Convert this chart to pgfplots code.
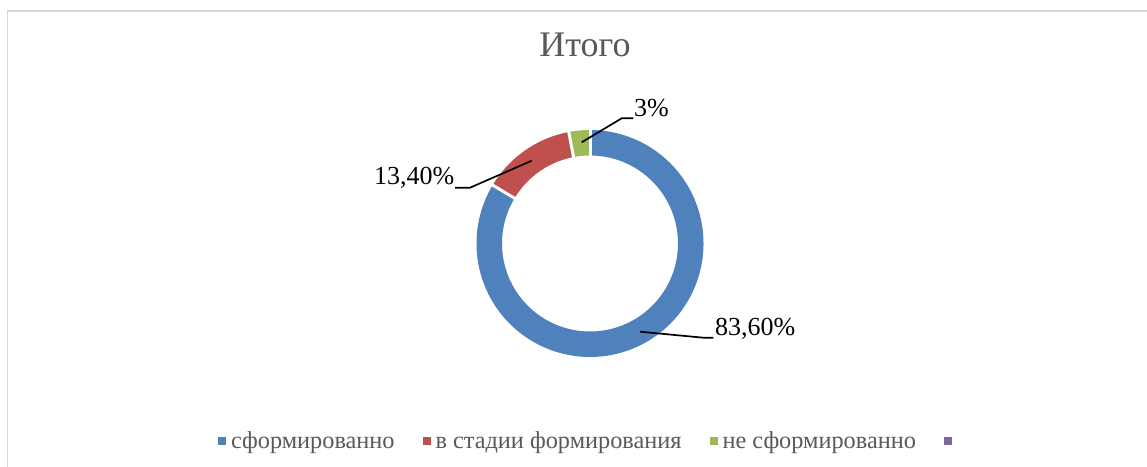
\documentclass[border=0pt]{standalone}
\usepackage{pgfplots}
\pgfplotsset{compat=1.18}
\usepackage{fontspec}
\setmainfont{Liberation Serif}
\definecolor{cblue}{HTML}{4F81BD}
\definecolor{cred}{HTML}{C0504D}
\definecolor{cgreen}{HTML}{9BBB59}
\definecolor{cpurple}{HTML}{8064A2}
\definecolor{tgray}{HTML}{595959}
\definecolor{fgray}{HTML}{D9D9D9}
\begin{document}
\begin{tikzpicture}
% shares in percent
\def\vA{83.6}\def\vB{13.4}\def\vC{3}
\def\cx{590}\def\cy{222.5}\def\rmid{100.75}
\begin{axis}[scale only axis, width=1147pt, height=466pt,
  xmin=0, xmax=1147, ymin=0, ymax=466, hide axis, clip=false,
  legend columns=-1,
  legend image code/.code={\fill[draw=none, line width=0pt] (0pt,-4pt) rectangle (8pt,4pt);},
  legend style={at={(axis cs:588.5,25)}, anchor=center, draw=none, fill=none,
    font=\fontsize{24.3}{28}\selectfont, text=tgray,
    nodes={inner sep=2pt},
    /tikz/every odd column/.append style={column sep=3pt},
    /tikz/every even column/.append style={column sep=26pt}},
]
\addplot[cblue, line width=25.5pt, domain=90-3.6*\vA:90, samples=300]
  ({\cx+\rmid*cos(x)},{\cy+\rmid*sin(x)});
\addlegendentry{сформированно}
\addplot[cred, line width=25.5pt, domain=90-3.6*(\vA+\vB):90-3.6*\vA, samples=80]
  ({\cx+\rmid*cos(x)},{\cy+\rmid*sin(x)});
\addlegendentry{в стадии формирования}
\addplot[cgreen, line width=25.5pt, domain=90-3.6*(\vA+\vB+\vC):90-3.6*(\vA+\vB), samples=30]
  ({\cx+\rmid*cos(x)},{\cy+\rmid*sin(x)});
\addlegendentry{не сформированно}
\addlegendimage{cpurple}
\addlegendentry{}
% white separators between the segments
\addplot[white, line width=3pt, domain=84:118, samples=2, forget plot]
  ({\cx+x*cos(90)},{\cy+x*sin(90)});
\addplot[white, line width=3pt, domain=84:118, samples=2, forget plot]
  ({\cx+x*cos(90-3.6*\vA)},{\cy+x*sin(90-3.6*\vA)});
\addplot[white, line width=3pt, domain=84:118, samples=2, forget plot]
  ({\cx+x*cos(90-3.6*(\vA+\vB))},{\cy+x*sin(90-3.6*(\vA+\vB))});
% leader lines
\addplot[black, line width=1.7pt, forget plot] coordinates {(581.7,323.7) (621.7,347.7) (633.3,347.7)};
\addplot[black, line width=1.7pt, forget plot] coordinates {(531.7,305.3) (470,278.3) (455,278.3)};
\addplot[black, line width=1.7pt, forget plot] coordinates {(640,134.3) (703.3,128.3) (713.3,128.3)};
% data labels
\node[anchor=base west, inner sep=0pt, font=\fontsize{26}{30}\selectfont] at (axis cs:634,349) {3\%};
\node[anchor=base east, inner sep=0pt, font=\fontsize{26}{30}\selectfont] at (axis cs:454.5,281) {13,40\%};
\node[anchor=base west, inner sep=0pt, font=\fontsize{26}{30}\selectfont] at (axis cs:715,131) {83,60\%};
% title
\node[anchor=base, inner sep=0pt, font=\fontsize{36}{40}\selectfont, text=tgray] at (axis cs:585,409) {Итого};
% chart frame
\draw[fgray, line width=1.8pt] (axis cs:7.5,-10) -- (axis cs:7.5,455) -- (axis cs:1160,455);
\end{axis}
\pgfresetboundingbox
\path[use as bounding box] (0,0) rectangle (1147pt,466pt);
\end{tikzpicture}
\end{document}
